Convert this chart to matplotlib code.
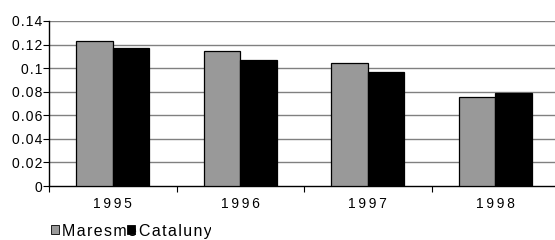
import matplotlib
matplotlib.use('Agg')
from matplotlib import pyplot as plt
from matplotlib.patches import Patch
from matplotlib.transforms import Bbox
import numpy as np

plt.rcParams['font.family'] = ['Liberation Sans', 'DejaVu Sans']

years = ['1995', '1996', '1997', '1998']
maresme = [0.123, 0.1145, 0.1044, 0.0758]
catalunya = [0.1168, 0.1066, 0.0967, 0.0786]
yticks = [0, 0.02, 0.04, 0.06, 0.08, 0.1, 0.12, 0.14]
ylabels = ['0', '0.02', '0.04', '0.06', '0.08', '0.1', '0.12', '0.14']

hair = '\u200a'
thin = '\u2009'  # letters in the original are spread out

fig = plt.figure(figsize=(5.55, 2.4), dpi=100)
ax = fig.add_axes([49/555, 54/240, 510/555, 165/240])

x = np.arange(len(years))
w = 0.286
ax.bar(x - w/2, maresme, w, color='#999999', edgecolor='black', linewidth=0.9, zorder=3)
ax.bar(x + w/2, catalunya, w, color='black', edgecolor='black', linewidth=0.9, zorder=3)

ax.set_xlim(-0.5, 3.5)
ax.set_ylim(0, 0.14)
ax.set_yticks(yticks)
ax.set_yticklabels([hair.join(s) for s in ylabels], fontsize=10)
for t in yticks[1:]:
    ax.axhline(t, color='#808080', linewidth=1, zorder=1)

ax.set_xticks(np.arange(-0.5, 4, 1))
ax.set_xticklabels([])
ax.set_xticks(x, minor=True)
ax.set_xticklabels([thin.join(s) for s in years], minor=True, fontsize=10)
ax.tick_params(axis='x', which='minor', length=0, pad=8)
ax.tick_params(axis='x', which='major', length=4, width=0.8, direction='out')
ax.tick_params(axis='y', length=4, width=0.8, direction='out', pad=1)

for s in ['top', 'right']:
    ax.spines[s].set_visible(False)
ax.spines['left'].set_linewidth(1)
ax.spines['bottom'].set_linewidth(1)

handles = [Patch(facecolor='#999999', edgecolor='black', linewidth=0.6),
           Patch(facecolor='black', edgecolor='black', linewidth=0.6)]
leg = fig.legend(handles, [hair.join('Maresme'), hair.join('Catalunya')], loc='lower left',
                 bbox_to_anchor=(51/555, 0.006), ncol=2, frameon=False, fontsize=11.5,
                 handlelength=0.5, handleheight=0.5, handletextpad=0.2,
                 columnspacing=-0.6, borderaxespad=0.0, borderpad=0.0)

# the original legend is cut off on the right
clip = Bbox.from_extents(0, 0, 211, 240)
for t in leg.get_texts():
    t.set_clip_box(clip)
    t.set_clip_on(True)

fig.savefig('out.png', dpi=100)
